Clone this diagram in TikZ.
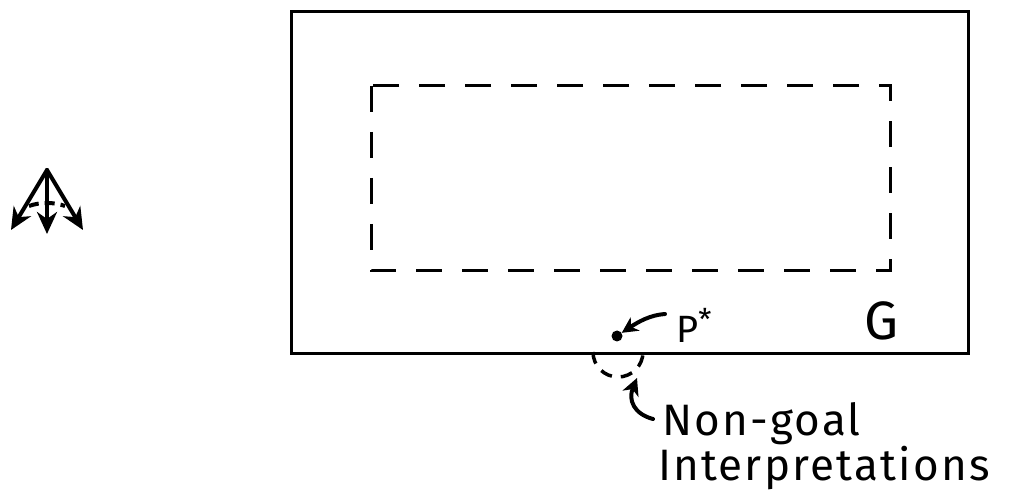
\documentclass[tikz,border=0pt]{standalone}
\usepackage{fontspec}
\setmainfont{Fira Sans}
\newfontfamily\handfont[LetterSpace=5]{Fira Sans}
\usetikzlibrary{arrows.meta}
\begin{document}
\begin{tikzpicture}[x=1pt,y=-1pt,
  solidline/.style={line width=3pt},
  dashline/.style={line width=3pt,dash pattern=on 26pt off 20pt},
  hand/.style={line width=4pt,line cap=round},
  handarrow/.style={hand,-{Stealth[length=22pt,width=20pt,inset=7pt]}},
  lbl/.style={inner sep=0pt,anchor=base west}]
\useasboundingbox (0,0) rectangle (1013,497);
% icon
\coordinate (apex) at (47,170);
\coordinate (tl) at (11,230);
\coordinate (tm) at (47,234);
\coordinate (tr) at (83,230);
\draw[handarrow] (apex) -- (tl);
\draw[handarrow] (apex) -- (tm);
\draw[handarrow] (apex) -- (tr);
\draw[line width=4pt,dash pattern=on 10pt off 6pt] (29,206) .. controls (40,202) and (54,202) .. (65,206);
% main rectangle G
\node[draw,solidline,minimum width=677pt,minimum height=342pt,inner sep=0pt,anchor=north west] (G) at (290,10) {};
% inner dashed rectangle
\draw[dashline] (371,86) rectangle (890,271);
% labels
\node[lbl,font=\fontsize{54}{54}\selectfont] (Glbl) at (864,340) {G};
\node[circle,fill,inner sep=0pt,minimum size=11pt] (p) at (617,336) {};
\node[lbl,font=\fontsize{38}{38}\selectfont] (plbl) at (676,342) {P\raisebox{12pt}{\fontsize{30}{30}\selectfont *}};
\draw[handarrow,-{Stealth[length=16pt,width=16pt,inset=5pt]}] (665,314) .. controls (650,315) and (638,322) .. (p);
% dashed semicircle below
\draw[line width=3.5pt,dash pattern=on 12pt off 9pt] (593,352) arc[start angle=180,end angle=0,radius=25];
% curved arrow to non-goal
\coordinate (ns) at (653,419);
\coordinate (ne) at (637,378);
\draw[handarrow,-{Stealth[length=17pt,width=17pt,inset=5pt]}] (ns) .. controls (634,414) and (628,400) .. (ne);
\node[lbl,font=\handfont\fontsize{44}{44}\selectfont] (ng) at (662,435) {Non-goal};
\node[lbl,font=\handfont\fontsize{44}{44}\selectfont] (interp) at (658,480) {Interpretations};
\end{tikzpicture}
\end{document}
